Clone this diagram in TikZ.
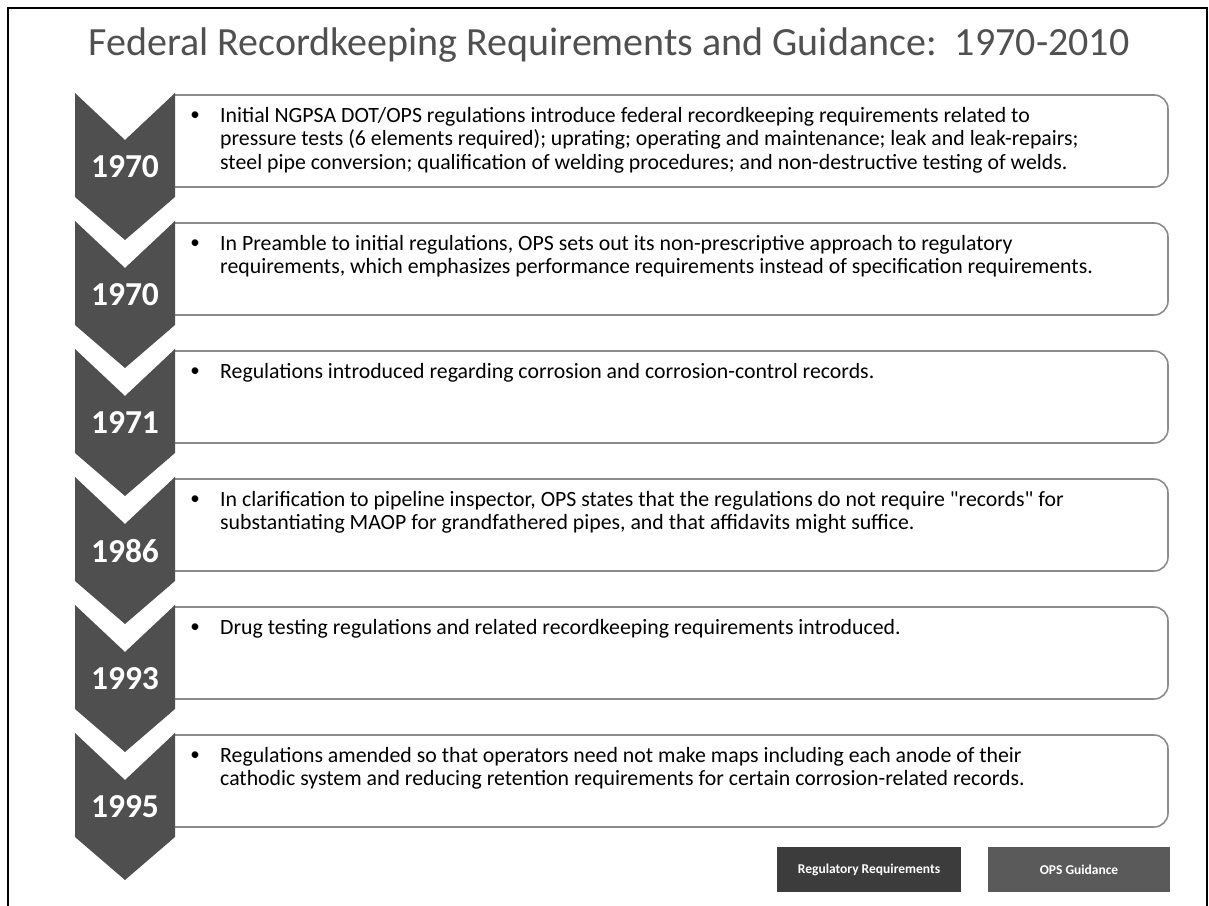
\documentclass[tikz,border=0pt]{standalone}
\usepackage{fontspec}
\setmainfont{Carlito}
\definecolor{chevgray}{HTML}{4F4F4F}
\definecolor{boxgray}{HTML}{8C8C8C}
\definecolor{titlegray}{HTML}{505050}
\definecolor{reggray}{HTML}{3C3C3C}
\definecolor{opsgray}{HTML}{5A5A5A}
\begin{document}
\begin{tikzpicture}[x=1pt, y=-1pt,
  chevron/.style={fill=chevgray, draw=none},
  eventbox/.style={draw=boxgray, line width=1.6pt, rounded corners=14pt, fill=white},
  year/.style={text=white, font=\fontsize{33.5}{38}\selectfont\bfseries},
  entry/.style={anchor=north west, inner sep=0pt, align=left, font=\fontsize{21.8}{23.5}\selectfont},
  bul/.style={inner sep=0pt, font=\fontsize{19}{23}\selectfont},
  legendbox/.style={minimum width=184pt, minimum height=45pt, text=white, font=\fontsize{13.5}{15}\selectfont\bfseries, inner sep=0pt}]
\useasboundingbox (0,0) rectangle (1209,905);
\draw[line width=2.5pt] (8,8) rectangle (1207,910);
\node[anchor=base, text=titlegray, font=\fontsize{40}{44}\selectfont] (title) at (609,55) {Federal Recordkeeping Requirements and Guidance:\ \ 1970-2010};
% chevrons and boxes
\foreach \yr [count=\i from 0] in {1970,1970,1971,1986,1993,1995} {
  \pgfmathsetmacro{\t}{93+128*\i}
  \draw[eventbox] (175,\t+2) -- (1168,\t+2) -- (1168,\t+94) -- (175,\t+94);
  \fill[chevron] (75,\t) -- (125,\t+47) -- (175,\t) -- (175,\t+104) -- (125,\t+147) -- (75,\t+104) -- cycle;
  \node[year] (yr\i) at (125,\t+74) {\yr};
  \node[bul] (bul\i) at (195,\t+23) {\textbullet};
}
% entries
\node[entry] (txt0) at (220,107) {Initial NGPSA DOT/OPS regulations introduce federal recordkeeping requirements related to\\pressure tests (6 elements required); uprating; operating and maintenance; leak and leak-repairs;\\steel pipe conversion; qualification of welding procedures; and non-destructive testing of welds.};
\node[entry] (txt1) at (220,235) {In Preamble to initial regulations, OPS sets out its non-prescriptive approach to regulatory\\requirements, which emphasizes performance requirements instead of specification requirements.};
\node[entry] (txt2) at (220,363) {Regulations introduced regarding corrosion and corrosion-control records.};
\node[entry] (txt3) at (220,491) {In clarification to pipeline inspector, OPS states that the regulations do not require \textquotedbl records\textquotedbl{} for\\substantiating MAOP for grandfathered pipes, and that affidavits might suffice.};
\node[entry] (txt4) at (220,619) {Drug testing regulations and related recordkeeping requirements introduced.};
\node[entry] (txt5) at (220,747) {Regulations amended so that operators need not make maps including each anode of their\\cathodic system and reducing retention requirements for certain corrosion-related records.};
% legend
\node[legendbox, fill=reggray] (reg) at (869,869.5) {Regulatory Requirements};
\node[legendbox, fill=opsgray, minimum width=182pt] (ops) at (1079,869.5) {OPS Guidance};
\end{tikzpicture}
\end{document}
